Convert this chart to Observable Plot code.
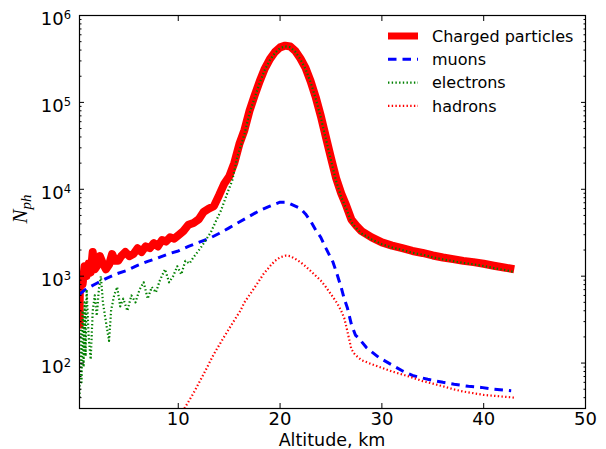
<!DOCTYPE html>
<html>
<head>
<meta charset="utf-8">
<script src="https://cdn.jsdelivr.net/npm/d3@7"></script>
<script src="https://cdn.jsdelivr.net/npm/@observablehq/plot@0.6"></script>
<style>
  html, body { margin: 0; padding: 0; background: white; }
</style>
</head>
<body>
<div id="chart"></div>
<script>
// ---- Data ----
const chargedAlt = [0.3,0.33,0.4,0.6,0.8,1.0,1.2,1.4,1.6,1.8,2.0,2.3,2.6,2.9,3.2,3.5,3.8,4.1,4.4,4.8,5.2,5.6,6.0,6.4,6.8,7.2,7.6,8.0,8.4,8.8,9.2,9.6,10.0,10.5,11.0,11.5,12.0,12.5,13.0,13.5,14.0,14.5,15.0,15.5,16.0,16.5,17.0,17.5,18.0,18.5,19.0,19.5,20.0,20.5,21.0,21.5,22.0,22.5,23.0,23.5,24.0,24.5,25.0,25.5,26.0,26.5,27.0,27.5,28,29,30,31,32,33,34,35,36,37,38,39,40,41,42,43];
const chargedN   = [250,700,1000,800,1300,1000,1400,1100,1900,1200,1300,1700,1400,1200,1350,1800,1500,1500,1700,1900,1700,1800,2100,1900,2200,2100,2400,2200,2600,2500,2800,2700,2950,3300,3900,4100,4500,5500,6000,6400,8500,11500,14000,20000,33000,48000,80000,120000,175000,245000,315000,380000,430000,450000,440000,390000,320000,250000,175000,115000,70000,40000,23000,13500,9000,6500,4500,3800,3300,2800,2450,2250,2100,1950,1850,1730,1640,1570,1500,1450,1390,1320,1260,1200];

const muonAlt = [0.3,1,2,3,4,5,6,7,8,9,10,11,12,13,14,15,16,17,18,19,20,20.5,21,22,22.5,23,23.5,24,24.5,25.2,25.6,26,26.3,26.6,27,27.4,27.8,28.5,29.7,31,32,33,34.5,36,37.1,38.5,39.75,41,42.7];
const muonN   = [620,720,830,950,1070,1170,1330,1480,1620,1800,1950,2200,2450,2700,3100,3600,4200,4900,5700,6400,7100,7100,6800,6000,5200,4300,3400,2800,2100,1450,1050,745,550,437,281,210,189,150,116,95,81.5,72,65,60,57,54,52.5,50,48];

const electronAlt = [0.3,0.4,0.5,0.6,0.7,0.8,0.9,1.0,1.2,1.4,1.6,1.8,2.0,2.2,2.4,2.6,2.8,3.0,3.2,3.4,3.7,4.0,4.3,4.6,5.0,5.4,5.8,6.2,6.6,7.0,7.4,7.8,8.2,8.7,9.1,9.5,9.9,10.3,10.7,11.1,11.5,11.9,12.3,12.7,13.2,13.7,14.2,14.8,15.3,15.8,16,16.5,17,17.5,18,18.5,19,19.5,20,20.5,21,21.5,22,22.5,23,23.5,24,24.5,25,25.5,26,26.5,27,27.5,28,29,30,31,32,33,34,35,36,37,38,39,40,41,42,43];
const electronN   = [40,250,60,400,90,500,120,700,200,110,400,600,350,700,1000,500,350,250,180,400,600,750,450,550,400,600,500,700,850,550,750,650,900,1200,850,1000,1300,1050,1500,1400,1650,1900,2200,2600,3200,4300,5700,8900,12600,23500,28000,43000,75000,113000,168000,237000,306000,371000,421000,441000,431000,382000,313000,244000,170000,111000,67000,38000,21500,12500,8200,6000,4200,3550,3100,2650,2330,2140,2000,1860,1770,1650,1560,1490,1420,1370,1310,1240,1180,1120];

const hadronAlt = [10.6,11.5,12.5,13.5,14.5,15.5,16.1,16.5,17.5,18.4,19.0,19.5,20.0,20.6,21.0,21.5,22.0,22.5,23.0,23.5,24.0,24.5,25.0,25.65,26.0,26.3,26.6,27.0,27.3,27.6,28,29,30,31,32,33,34,35,36,37,38,39,40,41,42,43];
const hadronN   = [30,45,75,127,200,310,400,500,740,1070,1300,1500,1650,1730,1700,1580,1450,1300,1150,1010,890,750,620,480,400,330,236,145,128,118,108,97,88,80,74,68,62,58,54,50,47,45,43,42,41,40];

const seriesNames = ["Charged particles", "muons", "electrons", "hadrons"];
const xTicks = [10, 20, 30, 40, 50];
const yTicks = [100, 1000, 10000, 100000, 1000000];
const yMinor = [];
for (let k = 1; k <= 5; k++) for (let m = 2; m <= 9; m++) {
  const v = m * Math.pow(10, k);
  if (v >= 30 && v < 1e6) yMinor.push(v);
}

const toRows = (xs, ys) => xs.map((x, i) => ({x, y: ys[i]}));
const charged = toRows(chargedAlt, chargedN);
const muons = toRows(muonAlt, muonN);
const electrons = toRows(electronAlt, electronN);
const hadrons = toRows(hadronAlt, hadronN);

const RED = "#ff0000", BLUE = "#0000ff", GREEN = "#008000";
const DASH = "8.5,6", DOT = "1.4,2.3";

const plot = Plot.plot({
  width: 606,
  height: 449,
  marginLeft: 79,
  marginRight: 21,
  marginTop: 15,
  marginBottom: 41,
  style: {fontFamily: "DejaVu Sans", fontSize: "17px", background: "white", color: "black"},
  x: {domain: [0.3, 50]},
  y: {type: "log", domain: [30, 1e6]},
  marks: [
    Plot.line(charged, {x: "x", y: "y", stroke: RED, strokeWidth: 8, clip: true, strokeLinejoin: "round", strokeLinecap: "butt"}),
    Plot.line(muons, {x: "x", y: "y", stroke: BLUE, strokeWidth: 3, strokeDasharray: DASH, strokeLinecap: "butt", clip: true}),
    Plot.line(electrons, {x: "x", y: "y", stroke: GREEN, strokeWidth: 2.2, strokeDasharray: DOT, strokeLinecap: "butt", clip: true}),
    Plot.line(hadrons, {x: "x", y: "y", stroke: RED, strokeWidth: 2.2, strokeDasharray: DOT, strokeLinecap: "butt", clip: true}),
    // tick marks (inward) on all four sides
    Plot.axisX({anchor: "bottom", ticks: xTicks, tickSize: -5, fill: "none", label: null}),
    Plot.axisX({anchor: "top", ticks: xTicks, tickSize: -5, fill: "none", label: null}),
    Plot.axisY({anchor: "left", ticks: yTicks, tickSize: -5, fill: "none", label: null}),
    Plot.axisY({anchor: "right", ticks: yTicks, tickSize: -5, fill: "none", label: null}),
    Plot.axisY({anchor: "left", ticks: yMinor, tickSize: -2.5, fill: "none", label: null}),
    Plot.axisY({anchor: "right", ticks: yMinor, tickSize: -2.5, fill: "none", label: null}),
    // tick labels
    Plot.axisX({anchor: "bottom", ticks: xTicks, tickSize: 0, tickPadding: 4, tickFormat: d => String(d), label: null, fontSize: 18}),
    Plot.axisY({anchor: "left", ticks: yTicks, tickSize: 0, tickPadding: 8.5, dy: 4, tickFormat: d => "10^" + Math.round(Math.log10(d)), label: null, fontSize: 18}),
    Plot.frame({stroke: "black", strokeWidth: 1.2})
  ]
});

document.getElementById("chart").appendChild(plot);
const svg = d3.select(plot);

// superscript exponents in y tick labels
svg.selectAll('g[aria-label="y-axis tick label"] text').each(function() {
  const t = d3.select(this);
  const s = t.text();
  const parts = s.split("^");
  if (parts.length === 2) {
    t.text(null);
    t.append("tspan").text(parts[0]);
    t.append("tspan").attr("dy", "-0.55em").attr("font-size", "0.64em").text(parts[1]);
  }
});

// x-axis label
svg.append("text")
  .attr("x", 332).attr("y", 446)
  .attr("text-anchor", "middle")
  .attr("font-family", "DejaVu Sans").attr("font-size", 17.5)
  .text("Altitude, km");

// y-axis label N_ph
const yl = svg.append("text")
  .attr("transform", "translate(27,209) rotate(-90)")
  .attr("text-anchor", "middle")
  .attr("font-family", "Liberation Serif").attr("font-style", "italic").attr("font-size", 21);
yl.append("tspan").text("N");
yl.append("tspan").attr("dy", 4).attr("font-size", 15).text("ph");

// legend
const legendStyles = [
  {stroke: RED, width: 7, dash: null},
  {stroke: BLUE, width: 3, dash: DASH},
  {stroke: GREEN, width: 2.2, dash: DOT},
  {stroke: RED, width: 2.2, dash: DOT}
];
const legend = svg.append("g").attr("aria-label", "legend");
seriesNames.forEach((name, i) => {
  const y = 36 + i * 23.3;
  const st = legendStyles[i];
  const ln = legend.append("line")
    .attr("x1", 388).attr("x2", 418).attr("y1", y).attr("y2", y)
    .attr("stroke", st.stroke).attr("stroke-width", st.width).attr("stroke-linecap", "butt");
  if (st.dash) ln.attr("stroke-dasharray", st.dash);
  legend.append("text")
    .attr("x", 432).attr("y", y).attr("dy", "0.35em")
    .attr("text-anchor", "start")
    .attr("font-family", "DejaVu Sans").attr("font-size", 16)
    .text(name);
});
</script>
</body>
</html>
